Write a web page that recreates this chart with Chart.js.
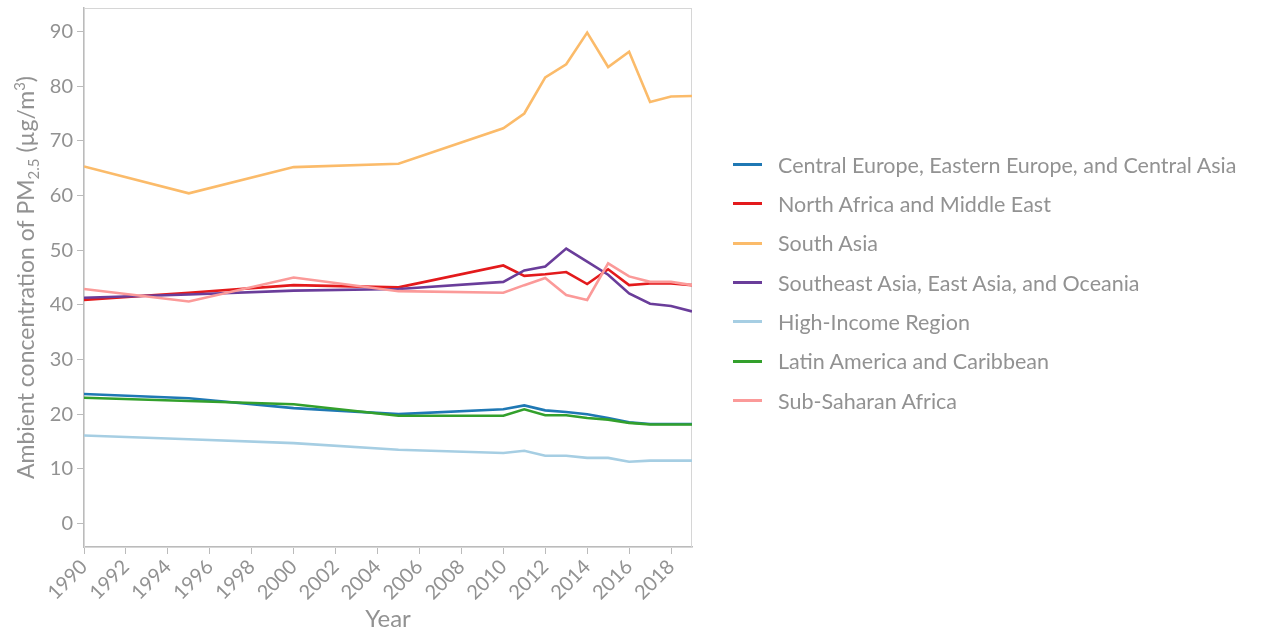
<!DOCTYPE html>
<html>
<head>
<meta charset="utf-8">
<script src="https://cdn.jsdelivr.net/npm/chart.js@4.4.0/dist/chart.umd.min.js"></script>
<style>
  html, body { margin: 0; padding: 0; background: #fff; }
  #wrap { position: relative; width: 1264px; height: 634px; }
  #legend { position: absolute; left: 733px; top: 145px; font-family: Lato, sans-serif; font-size: 21.5px; color: #929292; }
  #legend .row { height: 39.33px; display: flex; align-items: center; white-space: nowrap; }
  #legend .swatch { width: 29px; height: 3px; margin-right: 16px; flex: none; }
</style>
</head>
<body>
<div id="wrap">
  <canvas id="pmChart" width="1264" height="634"></canvas>
  <div id="legend"></div>
</div>
<script>
// years where the series have values
const years = [1990, 1995, 2000, 2005, 2010, 2011, 2012, 2013, 2014, 2015, 2016, 2017, 2018, 2019];

const regionNames = [
    "Central Europe, Eastern Europe, and Central Asia",
    "North Africa and Middle East",
    "South Asia",
    "Southeast Asia, East Asia, and Oceania",
    "High-Income Region",
    "Latin America and Caribbean",
    "Sub-Saharan Africa"
];

const centralEurope = [23.7, 22.9, 21.1, 20.0, 20.9, 21.6, 20.7, 20.4, 20.0, 19.3, 18.5, 18.2, 18.2, 18.2];
const northAfrica   = [40.9, 42.2, 43.6, 43.2, 47.2, 45.3, 45.6, 46.0, 43.8, 46.5, 43.6, 43.9, 43.9, 43.6];
const southAsia     = [65.3, 60.4, 65.2, 65.8, 72.3, 75.0, 81.6, 84.0, 89.8, 83.5, 86.3, 77.1, 78.1, 78.2];
const southeastAsia = [41.3, 41.9, 42.6, 42.9, 44.2, 46.3, 47.0, 50.3, 47.9, 45.5, 42.1, 40.2, 39.8, 38.8];
const highIncome    = [16.1, 15.4, 14.7, 13.5, 12.9, 13.3, 12.4, 12.4, 12.0, 12.0, 11.3, 11.5, 11.5, 11.5];
const latinAmerica  = [23.0, 22.4, 21.8, 19.7, 19.7, 20.9, 19.8, 19.8, 19.3, 19.0, 18.4, 18.1, 18.1, 18.1];
const subSaharan    = [42.9, 40.6, 45.0, 42.5, 42.2, 43.6, 44.9, 41.8, 40.9, 47.6, 45.2, 44.2, 44.2, 43.6];

const yTickValues = [0, 10, 20, 30, 40, 50, 60, 70, 80, 90];
const xTickValues = [1990, 1992, 1994, 1996, 1998, 2000, 2002, 2004, 2006, 2008, 2010, 2012, 2014, 2016, 2018];

const seriesValues = [centralEurope, northAfrica, southAsia, southeastAsia, highIncome, latinAmerica, subSaharan];
const seriesColors = ["#1f78b4", "#e31a1c", "#fbbb6a", "#6a3d9a", "#a6cee3", "#33a02c", "#fb9a99"];

const textGray = "#929292";
const fontName = "Lato";

const datasets = seriesValues.map((vals, i) => ({
    label: regionNames[i],
    data: vals.map((v, j) => ({ x: years[j], y: v })),
    borderColor: seriesColors[i],
    backgroundColor: seriesColors[i],
    borderWidth: 2.6,
    pointRadius: 0,
    tension: 0,
    order: seriesValues.length - i   // later series sit on top
}));

// legend as html, next to the plot
const legendBox = document.getElementById("legend");
regionNames.forEach((name, i) => {
    const row = document.createElement("div");
    row.className = "row";
    row.innerHTML = `<span class="swatch" style="background:${seriesColors[i]}"></span><span>${name}</span>`;
    legendBox.appendChild(row);
});

// light frame round the plot area
const frame = {
    id: "frame",
    beforeDatasetsDraw(chart) {
        const a = chart.chartArea;
        const ctx = chart.ctx;
        ctx.save();
        ctx.strokeStyle = "#d6d6d6";
        ctx.lineWidth = 1;
        ctx.strokeRect(a.left + 0.5, a.top + 0.5, a.right - a.left - 1, a.bottom - a.top);
        ctx.restore();
    }
};

// y title with PM2.5 subscript and m3 superscript
const yTitle = {
    id: "yTitle",
    afterDraw(chart) {
        const a = chart.chartArea;
        const ctx = chart.ctx;
        const big = "23px " + fontName;
        const small = "15px " + fontName;
        const parts = [
            { t: "Ambient concentration of PM", f: big, dy: 0 },
            { t: "2.5", f: small, dy: 5 },
            { t: " (µg/m", f: big, dy: 0 },
            { t: "3", f: small, dy: -9 },
            { t: ")", f: big, dy: 0 }
        ];
        ctx.save();
        let total = 0;
        parts.forEach(p => { ctx.font = p.f; p.w = ctx.measureText(p.t).width; total += p.w; });
        ctx.translate(34, (a.top + a.bottom) / 2);
        ctx.rotate(-Math.PI / 2);
        ctx.fillStyle = textGray;
        ctx.textBaseline = "alphabetic";
        let x = -total / 2;
        parts.forEach(p => {
            ctx.font = p.f;
            ctx.fillText(p.t, x, p.dy);
            x += p.w;
        });
        ctx.restore();
    }
};

new Chart(document.getElementById("pmChart"), {
    type: "line",
    data: { datasets: datasets },
    plugins: [frame, yTitle],
    options: {
        responsive: false,
        animation: false,
        layout: { padding: { left: 0, top: 8, right: 572, bottom: 0 } },
        scales: {
            x: {
                type: "linear",
                min: 1990,
                max: 2019,
                afterBuildTicks: (scale) => { scale.ticks = xTickValues.map(v => ({ value: v })); },
                afterFit: (scale) => { scale.height = 87; scale.paddingLeft = 0; scale.paddingRight = 0; },
                grid: { drawOnChartArea: false, drawTicks: true, tickLength: 7, color: "#bbbbbb" },
                border: { display: true, color: "#bbbbbb", width: 1.5 },
                ticks: {
                    color: textGray,
                    font: { family: fontName, size: 20 },
                    maxRotation: 45,
                    minRotation: 45,
                    padding: 1,
                    callback: (v) => String(v)
                },
                title: {
                    display: true,
                    text: "Year",
                    color: textGray,
                    font: { family: fontName, size: 24 },
                    padding: { top: 0, bottom: 0 }
                }
            },
            y: {
                min: -4.3,
                max: 94.3,
                afterBuildTicks: (scale) => { scale.ticks = yTickValues.map(v => ({ value: v })); },
                afterFit: (scale) => { scale.width = 84; scale.paddingTop = 0; scale.paddingBottom = 0; },
                grid: { drawOnChartArea: false, drawTicks: true, tickLength: 7, color: "#bbbbbb" },
                border: { display: true, color: "#bbbbbb", width: 1.5 },
                ticks: {
                    color: textGray,
                    font: { family: fontName, size: 20 },
                    padding: 4
                }
            }
        },
        plugins: {
            tooltip: { enabled: false },
            legend: { display: false }
        }
    }
});
</script>
</body>
</html>
